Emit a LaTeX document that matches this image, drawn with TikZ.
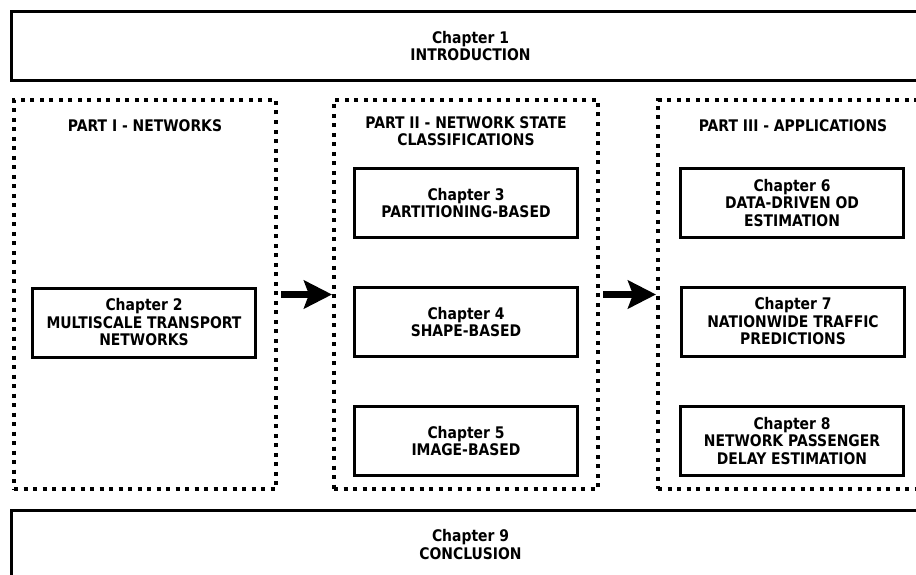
\documentclass[tikz,border=0pt]{standalone}
\usepackage{fontspec}
\setmainfont{DejaVu Sans}[FakeStretch=0.87]
\usetikzlibrary{arrows.meta}

\tikzset{
  chapbox/.style = {draw, line width=3pt, align=center, inner sep=0pt,
                    minimum width=223pt, minimum height=69pt},
  bandbox/.style = {draw, line width=3pt, align=center, inner sep=0pt,
                    minimum width=918pt, minimum height=69pt},
  partbox/.style = {draw, line width=4pt, dash pattern=on 4pt off 5.5pt,
                    minimum height=389pt, inner sep=0pt},
  parttitle/.style = {align=center, inner sep=0pt},
  bigarrow/.style = {line width=7pt, shorten <=3pt,
                     -{Stealth[length=28pt, width=28pt, inset=5pt]}}
}

\begin{document}
\begin{tikzpicture}[x=1pt, y=-1pt, font=\fontsize{16}{17.5}\selectfont\bfseries]
\useasboundingbox (0,0) rectangle (916,575);
\clip (0,0) rectangle (916,575);

% intro and conclusion
\node[bandbox] (ch1) at (470.5,46) {Chapter 1\\INTRODUCTION};
\node[bandbox] (ch9) at (470.5,544.5) {Chapter 9\\CONCLUSION};

% the three parts
\node[partbox, minimum width=262pt] (p1) at (145,294.5) {};
\node[partbox, minimum width=264pt] (p2) at (466,294.5) {};
\node[partbox, minimum width=268pt] (p3) at (792,294.5) {};

\node[parttitle] (t1) at (145,126) {PART I - NETWORKS};
\node[parttitle] (t2) at (466,131) {PART II - NETWORK STATE\\CLASSIFICATIONS};
\node[parttitle] (t3) at (793,126) {PART III - APPLICATIONS};

% chapters inside the parts
\node[chapbox] (ch2) at (144,322.5) {Chapter 2\\MULTISCALE TRANSPORT\\NETWORKS};
\foreach \n/\x/\y/\t in {ch3/466/203/{Chapter 3\\PARTITIONING-BASED},
                         ch4/466/322/{Chapter 4\\SHAPE-BASED},
                         ch5/466/441/{Chapter 5\\IMAGE-BASED},
                         ch6/792/203/{Chapter 6\\DATA-DRIVEN OD\\ESTIMATION},
                         ch7/793/321.5/{Chapter 7\\NATIONWIDE TRAFFIC\\PREDICTIONS},
                         ch8/792/441/{Chapter 8\\NETWORK PASSENGER\\DELAY ESTIMATION}}{
  \node[chapbox] (\n) at (\x,\y) {\t};
}

% flow between parts
\draw[bigarrow] (p1.east) -- (p2.west);
\draw[bigarrow] (p2.east) -- (p3.west);

\end{tikzpicture}
\end{document}
